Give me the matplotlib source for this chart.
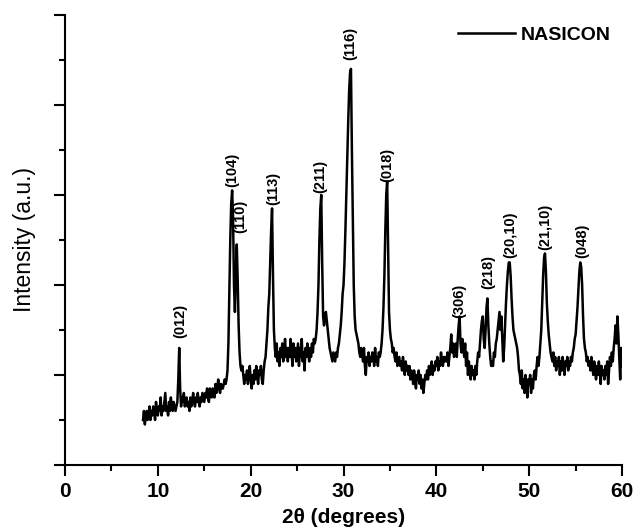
import matplotlib
matplotlib.use("Agg")
import matplotlib.pyplot as plt
import numpy as np
from matplotlib.ticker import MultipleLocator, NullFormatter

plt.rcParams['font.family'] = ['Liberation Sans', 'DejaVu Sans']

# 2theta scan, 0.1 degree steps from 8.4 to 60.0
two_theta = np.round(np.arange(84, 601) / 10, 1)

# intensity (a.u.), one row per degree
intensity = [
    10, 12, 9, 11, 12, 10,                      # 8.4 - 8.9
    11, 13, 10, 12, 11, 13, 12, 10, 14, 12,     # 9
    11, 13, 12, 15, 11, 13, 12, 14, 16, 12,     # 10
    13, 11, 14, 12, 15, 13, 12, 14, 13, 12,     # 11
    13, 14, 19, 26, 17, 13, 15, 14, 16, 13,     # 12
    14, 15, 13, 14, 12, 15, 13, 14, 16, 14,     # 13
    13, 15, 14, 16, 14, 13, 15, 14, 16, 15,     # 14
    14, 16, 15, 17, 15, 14, 17, 16, 15, 17,     # 15
    16, 15, 18, 16, 17, 19, 17, 16, 18, 17,     # 16
    17, 18, 19, 18, 19, 21, 27, 38, 50, 58,     # 17
    61, 55, 40, 34, 42, 49, 41, 31, 25, 22,     # 18
    21, 22, 20, 18, 20, 19, 21, 18, 20, 22,     # 19
    19, 17, 20, 18, 21, 19, 22, 20, 18, 21,     # 20
    20, 22, 19, 18, 21, 23, 24, 27, 30, 35,     # 21
    38, 45, 52, 57, 42, 30, 26, 24, 27, 23,     # 22
    25, 22, 26, 24, 27, 23, 25, 28, 24, 26,     # 23
    23, 26, 24, 28, 25, 22, 27, 24, 26, 23,     # 24
    25, 27, 22, 26, 24, 28, 23, 25, 21, 26,     # 25
    24, 27, 25, 23, 26, 24, 27, 25, 28, 27,     # 26
    28, 30, 34, 40, 50, 57, 60, 45, 33, 31,     # 27
    33, 34, 32, 30, 28, 26, 25, 24, 23, 25,     # 28
    24, 23, 25, 24, 26, 27, 29, 31, 34, 38,     # 29
    40, 45, 52, 60, 68, 76, 83, 87, 88, 70,     # 30
    55, 40, 33, 30, 29, 28, 27, 25, 24, 26,     # 31
    25, 23, 26, 22, 20, 24, 23, 25, 22, 24,     # 32
    23, 25, 24, 22, 26, 23, 24, 22, 25, 24,     # 33
    25, 27, 30, 35, 42, 52, 60, 63, 48, 34,     # 34
    30, 28, 27, 25, 26, 24, 23, 25, 22, 23,     # 35
    24, 22, 23, 21, 24, 22, 20, 23, 21, 22,     # 36
    20, 22, 19, 21, 20, 18, 21, 19, 17, 20,     # 37
    19, 21, 18, 20, 17, 19, 16, 18, 20, 19,     # 38
    21, 19, 22, 20, 21, 23, 20, 22, 21, 23,     # 39
    22, 24, 21, 23, 22, 25, 23, 22, 24, 23,     # 40
    24, 23, 25, 22, 24, 26, 29, 25, 27, 24,     # 41
    25, 27, 24, 28, 31, 33, 27, 25, 28, 26,     # 42
    24, 27, 22, 25, 20, 23, 21, 19, 22, 20,     # 43
    21, 19, 22, 20, 23, 25, 24, 27, 30, 32,     # 44
    33, 28, 26, 30, 35, 37, 31, 27, 24, 22,     # 45
    23, 22, 25, 24, 27, 28, 30, 32, 34, 30,     # 46
    33, 28, 23, 26, 31, 36, 40, 43, 45, 45,     # 47
    42, 37, 33, 30, 29, 28, 27, 26, 24, 21,     # 48
    20, 18, 21, 17, 19, 16, 20, 18, 15, 19,     # 49
    18, 20, 16, 19, 17, 20, 21, 19, 22, 24,     # 50
    22, 24, 27, 30, 36, 42, 46, 47, 43, 36,     # 51
    32, 29, 27, 25, 24, 23, 25, 22, 24, 21,     # 52
    23, 22, 24, 20, 23, 21, 24, 22, 20, 23,     # 53
    22, 24, 21, 23, 22, 24, 23, 25, 26, 28,     # 54
    29, 32, 35, 39, 43, 45, 44, 40, 33, 28,     # 55
    26, 25, 23, 24, 22, 23, 21, 24, 22, 20,     # 56
    23, 21, 19, 22, 20, 23, 21, 18, 22, 20,     # 57
    21, 19, 22, 20, 23, 18, 21, 24, 22, 25,     # 58
    23, 26, 28, 31, 27, 33, 29, 24, 19, 26,     # 59
    22,                                         # 60
]

# Miller index labels for the reflections
peak_labels = ['(012)', '(104)', '(110)', '(113)', '(211)', '(116)', '(018)',
               '(306)', '(218)', '(20,10)', '(21,10)', '(048)']
label_x = [12.4, 18.0, 18.9, 22.4, 27.5, 30.75, 34.7, 42.5, 45.6, 48.0, 51.7, 55.7]
label_y = [28.2, 61.8, 51.6, 57.8, 60.4, 90.0, 62.9, 32.7, 39.2, 46.0, 47.8, 46.0]

fig = plt.figure(figsize=(6.35, 5.32), dpi=100)
ax = fig.add_axes([0.1024, 0.126, 0.8772, 0.846])

ax.plot(two_theta, intensity, color='black', lw=1.8, label='NASICON')

for lab, lx, ly in zip(peak_labels, label_x, label_y):
    ax.text(lx, ly, lab, rotation=90, ha='center', va='bottom',
            fontsize=10.5, fontweight='bold')

ax.set_xlim(0, 60)
ax.set_ylim(0, 100)
ax.xaxis.set_major_locator(MultipleLocator(10))
ax.xaxis.set_minor_locator(MultipleLocator(5))
ax.yaxis.set_major_locator(MultipleLocator(20))
ax.yaxis.set_minor_locator(MultipleLocator(10))
ax.yaxis.set_major_formatter(NullFormatter())

for side in ['top', 'right']:
    ax.spines[side].set_visible(False)
for side in ['left', 'bottom']:
    ax.spines[side].set_linewidth(1.5)

ax.tick_params(which='major', length=8, width=1.5, direction='out', pad=4)
ax.tick_params(which='minor', length=4, width=1.5, direction='out')
for t in ax.get_xticklabels():
    t.set_fontsize(15)
    t.set_fontweight('bold')

ax.set_xlabel('2θ (degrees)', fontsize=15, fontweight='bold', labelpad=5)
ax.set_ylabel('Intensity (a.u.)', fontsize=16.5, labelpad=9)

ax.legend(loc='upper right', bbox_to_anchor=(1.0, 1.0), frameon=False,
          handlelength=2.9, handletextpad=0.3, borderaxespad=0.2,
          prop={'weight': 'bold', 'size': 14})

fig.savefig('out.png', dpi=100)
